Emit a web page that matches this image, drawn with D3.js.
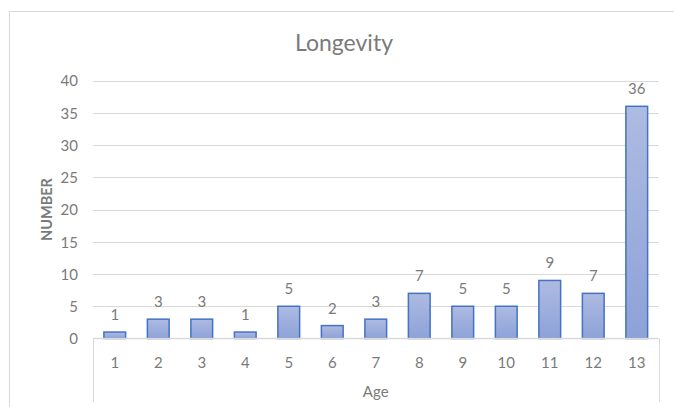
<!DOCTYPE html>
<html><head><meta charset="utf-8">
<script src="https://cdn.jsdelivr.net/npm/d3@7/dist/d3.min.js"></script>
<style>body{margin:0;background:#fff}svg{display:block}text{font-family:Lato,"Open Sans",sans-serif}</style>
</head><body>
<script>
const categories = ["1","2","3","4","5","6","7","8","9","10","11","12","13"];
const values = [1,3,3,1,5,2,3,7,5,5,9,7,36];
const yTicks = [0,5,10,15,20,25,30,35,40];
const title = "Longevity";
const xTitle = "Age";
const yTitle = "NUMBER";

const W = 674, H = 407;
const TXT = "#7a7a7a";
const svg = d3.select("body").append("svg").attr("width", W).attr("height", H);
const defs = svg.append("defs");
const g = defs.append("linearGradient").attr("id","bg").attr("x1",0).attr("y1",0).attr("x2",0).attr("y2",1);
g.append("stop").attr("offset","0%").attr("stop-color","#aebbe2");
g.append("stop").attr("offset","100%").attr("stop-color","#8da2d8");

// chart border
svg.append("rect").attr("x",9.5).attr("y",11.5).attr("width",670).attr("height",420)
  .attr("fill","none").attr("stroke","#d9d9d9");

const L = 93, R = 658.5, T = 80.5, B = 338.5;
const x = d3.scaleBand().domain(categories).range([L,R]).paddingInner(0.5).paddingOuter(0.25);
const y = d3.scaleLinear().domain([0,40]).range([B,T]);

// gridlines
svg.append("g").selectAll("line").data(yTicks.filter(d=>d>0)).join("line")
  .attr("x1",L).attr("x2",R).attr("y1",d=>Math.round(y(d))+0.5).attr("y2",d=>Math.round(y(d))+0.5)
  .attr("stroke","#d9d9d9").attr("stroke-width",1);

// y axis labels
const yAxis = d3.axisLeft(y).tickValues(yTicks).tickSize(0).tickPadding(0);
const ya = svg.append("g").attr("transform",`translate(78,0)`).call(yAxis);
ya.select(".domain").remove();
ya.selectAll("text").attr("fill",TXT).style("font-size","15px").attr("dy","0.35em");

// bars
svg.append("g").selectAll("rect").data(values).join("rect")
  .attr("x",(d,i)=>x(categories[i])).attr("width",x.bandwidth())
  .attr("y",d=>y(d)).attr("height",d=>B-y(d))
  .attr("fill","url(#bg)").attr("stroke","#4472c4").attr("stroke-width",1.5);

// value labels
svg.append("g").selectAll("text").data(values).join("text")
  .attr("x",(d,i)=>x(categories[i])+x.bandwidth()/2).attr("y",d=>y(d)-12)
  .attr("text-anchor","middle").attr("fill",TXT).style("font-size","15px").text(d=>d);

// x axis
const xa = svg.append("g").attr("transform",`translate(0,${B})`)
  .call(d3.axisBottom(x).tickSize(0).tickPadding(0));
xa.select(".domain").remove();
xa.selectAll("text").attr("fill",TXT).style("font-size","15px").attr("dy",null).attr("y",29);
svg.append("line").attr("x1",L).attr("x2",R).attr("y1",B).attr("y2",B).attr("stroke","#d9d9d9").attr("stroke-width",1.5);
[L,R].forEach(v=>svg.append("line").attr("x1",Math.round(v)+0.5).attr("x2",Math.round(v)+0.5)
  .attr("y1",B).attr("y2",402).attr("stroke","#d9d9d9"));

// titles
svg.append("text").attr("x",344).attr("y",51).attr("text-anchor","middle")
  .attr("fill",TXT).style("font-size","23px").text(title);
svg.append("text").attr("x",(L+R)/2).attr("y",397).attr("text-anchor","middle")
  .attr("fill",TXT).style("font-size","15px").text(xTitle);
svg.append("text").attr("transform",`translate(52,${(T+B)/2}) rotate(-90)`).attr("text-anchor","middle")
  .attr("fill",TXT).style("font-size","14.5px").style("font-weight","bold").text(yTitle);
</script>
</body></html>
